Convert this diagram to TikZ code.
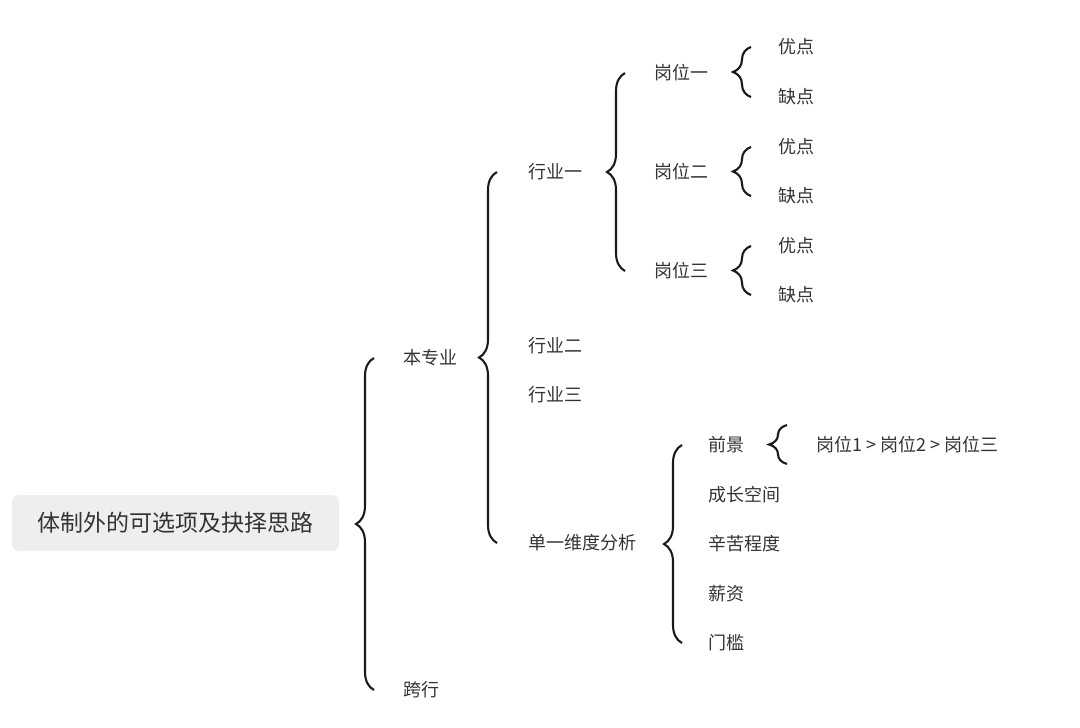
\documentclass[tikz,border=0pt]{standalone}
\usepackage{fontspec}
\setmainfont{Noto Sans CJK SC}
\usetikzlibrary{decorations.pathreplacing}

\definecolor{txtgray}{HTML}{333333}
\definecolor{boxgray}{HTML}{EEEEEE}
\definecolor{bracegray}{HTML}{1A1A1A}

\tikzset{
  item/.style={anchor=west, inner sep=0pt, text=txtgray, font=\fontsize{18}{18}\selectfont},
  rootbox/.style={fill=boxgray, rounded corners=7pt, minimum width=327pt, minimum height=56pt,
                  text=txtgray, font=\fontsize{23}{23}\selectfont},
  curly/.style={decorate, decoration={brace, amplitude=18pt}, line width=2.1pt, draw=bracegray}
}

\begin{document}
\begin{tikzpicture}[x=1pt, y=-1pt]
  \useasboundingbox (0,0) rectangle (1080,728);

  % root
  \node[rootbox] (root) at (175.5,523) {体制外的可选项及抉择思路};

  % first level
  \node[item] (benzy) at (403,358) {本专业};
  \node[item] (kuahang) at (403,690) {跨行};

  % industries
  \node[item] (hy1) at (528,172) {行业一};
  \node[item] (hy2) at (528,346) {行业二};
  \node[item] (hy3) at (528,395) {行业三};
  \node[item] (fenxi) at (528,543) {单一维度分析};

  % posts
  \node[item] (gw1) at (654,73) {岗位一};
  \node[item] (gw2) at (654,172) {岗位二};
  \node[item] (gw3) at (654,271) {岗位三};

  \node[item] (you1) at (778,47) {优点};
  \node[item] (que1) at (778,97) {缺点};
  \node[item] (you2) at (778,147) {优点};
  \node[item] (que2) at (778,196) {缺点};
  \node[item] (you3) at (778,246) {优点};
  \node[item] (que3) at (778,295) {缺点};

  % dimensions
  \node[item] (qianjing) at (708,445) {前景};
  \node[item] (chengzhang) at (708,495) {成长空间};
  \node[item] (xinku) at (708,544) {辛苦程度};
  \node[item] (xinzi) at (708,594) {薪资};
  \node[item] (menkan) at (708,643) {门槛};

  \node[item] (paixu) at (816,445) {岗位1 > 岗位2 > 岗位三};

  % braces
  \draw[curly] ([xshift=-29pt]kuahang.west) -- ([xshift=-29pt]benzy.west);
  \draw[curly] ([xshift=-31pt]fenxi.west) -- ([xshift=-31pt]hy1.west);
  \draw[curly] ([xshift=-29pt]gw3.west) -- ([xshift=-29pt]gw1.west);
  \draw[curly] ([xshift=-27pt]que1.west) -- ([xshift=-27pt]you1.west);
  \draw[curly] ([xshift=-27pt]que2.west) -- ([xshift=-27pt]you2.west);
  \draw[curly] ([xshift=-27pt]que3.west) -- ([xshift=-27pt]you3.west);
  \draw[curly] ([xshift=-26pt]menkan.west) -- ([xshift=-26pt]qianjing.west);
  \draw[curly] ([shift={(-29pt,-19pt)}]paixu.west) -- ([shift={(-29pt,20pt)}]paixu.west);
\end{tikzpicture}
\end{document}
